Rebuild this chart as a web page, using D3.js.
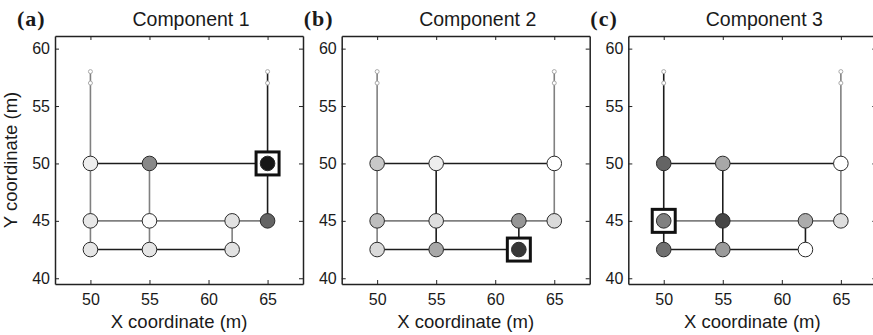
<!DOCTYPE html>
<html>
<head>
<meta charset="utf-8">
<script src="https://cdn.jsdelivr.net/npm/d3@7"></script>
<style>
  body { margin: 0; background: #fff; }
  text { font-family: "Liberation Sans", Arial, sans-serif; fill: #1a1a1a; }
</style>
</head>
<body>
<div id="chart"></div>
<script>
// network nodes (x, y in metres); first four are the small source points
var nodeX = [50, 50, 65, 65, 50, 55, 65, 50, 55, 62, 65, 50, 55, 62];
var nodeY = [58, 57, 58, 57, 50, 50, 50, 45, 45, 45, 45, 42.5, 42.5, 42.5];
// pipes
var linkFrom = [0, 1, 2, 3, 4, 5, 4, 5, 6, 7, 8, 9, 7, 8, 9, 11, 12];
var linkTo   = [1, 4, 3, 6, 5, 6, 7, 8, 10, 8, 9, 10, 11, 12, 13, 12, 13];

var titles = ["Component 1", "Component 2", "Component 3"];
var panelTags = ["(a)", "(b)", "(c)"];

// 1 = dark pipe, 0 = grey pipe
var linkDarkA = [0, 0, 1, 1, 1, 1, 0, 0, 1, 0, 0, 0, 0, 0, 0, 1, 1];
var linkDarkB = [0, 0, 0, 0, 1, 1, 0, 1, 0, 0, 0, 0, 0, 1, 1, 1, 1];
var linkDarkC = [1, 1, 0, 0, 1, 1, 1, 1, 0, 0, 0, 0, 1, 1, 1, 1, 1];

// grey level of junction nodes 4..13 (0 black, 255 white)
var greyA = [238, 136, 22, 232, 250, 226, 100, 230, 230, 226];
var greyB = [200, 238, 255, 190, 222, 150, 218, 218, 168, 55];
var greyC = [100, 168, 255, 128, 70, 172, 222, 112, 155, 255];

// boxed node per component
var boxed = [6, 13, 7];

var xTicks = [50, 55, 60, 65];
var yTicks = [40, 45, 50, 55, 60];

var links = [linkDarkA, linkDarkB, linkDarkC];
var greys = [greyA, greyB, greyC];

var W = 873, H = 335;
var panelLeft = [55, 341.7, 628.3];
var pw = 248, plotTop = 36, plotBottom = 284;
var ph = plotBottom - plotTop;

var svg = d3.select("#chart").append("svg")
  .attr("width", W)
  .attr("height", H);

var x = d3.scaleLinear().domain([47, 68]).range([0, pw]);
var y = d3.scaleLinear().domain([39.5, 61.1]).range([ph, 0]);

for (var p = 0; p < 3; p++) {
  var g = svg.append("g")
    .attr("transform", "translate(" + panelLeft[p] + "," + plotTop + ")");

  // pipes
  g.selectAll(".pipe")
    .data(linkFrom.map(function(f, i) { return {f: f, t: linkTo[i], dark: links[p][i]}; }))
    .enter().append("line")
    .attr("x1", function(d) { return x(nodeX[d.f]); })
    .attr("y1", function(d) { return y(nodeY[d.f]); })
    .attr("x2", function(d) { return x(nodeX[d.t]); })
    .attr("y2", function(d) { return y(nodeY[d.t]); })
    .attr("stroke", function(d) { return d.dark ? "#1c1c1c" : "#808080"; })
    .attr("stroke-width", 1.6);

  // source points
  g.selectAll(".src")
    .data([0, 1, 2, 3])
    .enter().append("circle")
    .attr("cx", function(i) { return x(nodeX[i]); })
    .attr("cy", function(i) { return y(nodeY[i]); })
    .attr("r", 2)
    .attr("fill", "#fff")
    .attr("stroke", "#aaa")
    .attr("stroke-width", 1);

  // highlight box
  var b = boxed[p];
  g.append("rect")
    .attr("x", x(nodeX[b]) - 11.5)
    .attr("y", y(nodeY[b]) - 11.5)
    .attr("width", 23)
    .attr("height", 23)
    .attr("fill", "#fff")
    .attr("stroke", "#111")
    .attr("stroke-width", 3);

  // junctions
  g.selectAll(".node")
    .data(greys[p].map(function(v, i) { return {i: i + 4, v: v}; }))
    .enter().append("circle")
    .attr("cx", function(d) { return x(nodeX[d.i]); })
    .attr("cy", function(d) { return y(nodeY[d.i]); })
    .attr("r", 7.3)
    .attr("fill", function(d) { return d3.rgb(d.v, d.v, d.v); })
    .attr("stroke", "#2a2a2a")
    .attr("stroke-width", 1);

  // box with inward ticks on all sides
  g.append("g")
    .attr("transform", "translate(0," + ph + ")")
    .call(d3.axisBottom(x).tickValues(xTicks).tickSizeInner(-4).tickSizeOuter(0).tickPadding(10))
    .call(function(a) { a.selectAll("text").style("font-size", "16px"); });
  g.append("g")
    .call(d3.axisTop(x).tickValues(xTicks).tickSizeInner(-4).tickSizeOuter(0).tickFormat(""));
  g.append("g")
    .call(d3.axisLeft(y).tickValues(yTicks).tickSizeInner(-4).tickSizeOuter(0).tickPadding(5))
    .call(function(a) { a.selectAll("text").style("font-size", "16px"); });
  g.append("g")
    .attr("transform", "translate(" + pw + ",0)")
    .call(d3.axisRight(y).tickValues(yTicks).tickSizeInner(-4).tickSizeOuter(0).tickFormat(""));
  g.selectAll(".domain").attr("stroke", "#222").attr("stroke-width", 1.5);
  g.selectAll(".tick line").attr("stroke", "#222");

  // titles
  g.append("text")
    .attr("x", pw / 2 + 12)
    .attr("y", -10)
    .attr("text-anchor", "middle")
    .style("font-size", "19.5px")
    .text(titles[p]);

  g.append("text")
    .attr("x", -38)
    .attr("y", -10)
    .style("font-family", "'Liberation Serif', 'Times New Roman', serif")
    .style("font-weight", "bold")
    .style("font-size", "22px")
    .style("letter-spacing", "1px")
    .text(panelTags[p]);

  g.append("text")
    .attr("x", pw / 2)
    .attr("y", 328 - plotTop)
    .attr("text-anchor", "middle")
    .style("font-size", "18.5px")
    .text("X coordinate (m)");

  if (p == 0) {
    g.append("text")
      .attr("transform", "translate(-38," + (ph / 2) + ") rotate(-90)")
      .attr("text-anchor", "middle")
      .style("font-size", "18.5px")
      .text("Y coordinate (m)");
  }
}
</script>
</body>
</html>
